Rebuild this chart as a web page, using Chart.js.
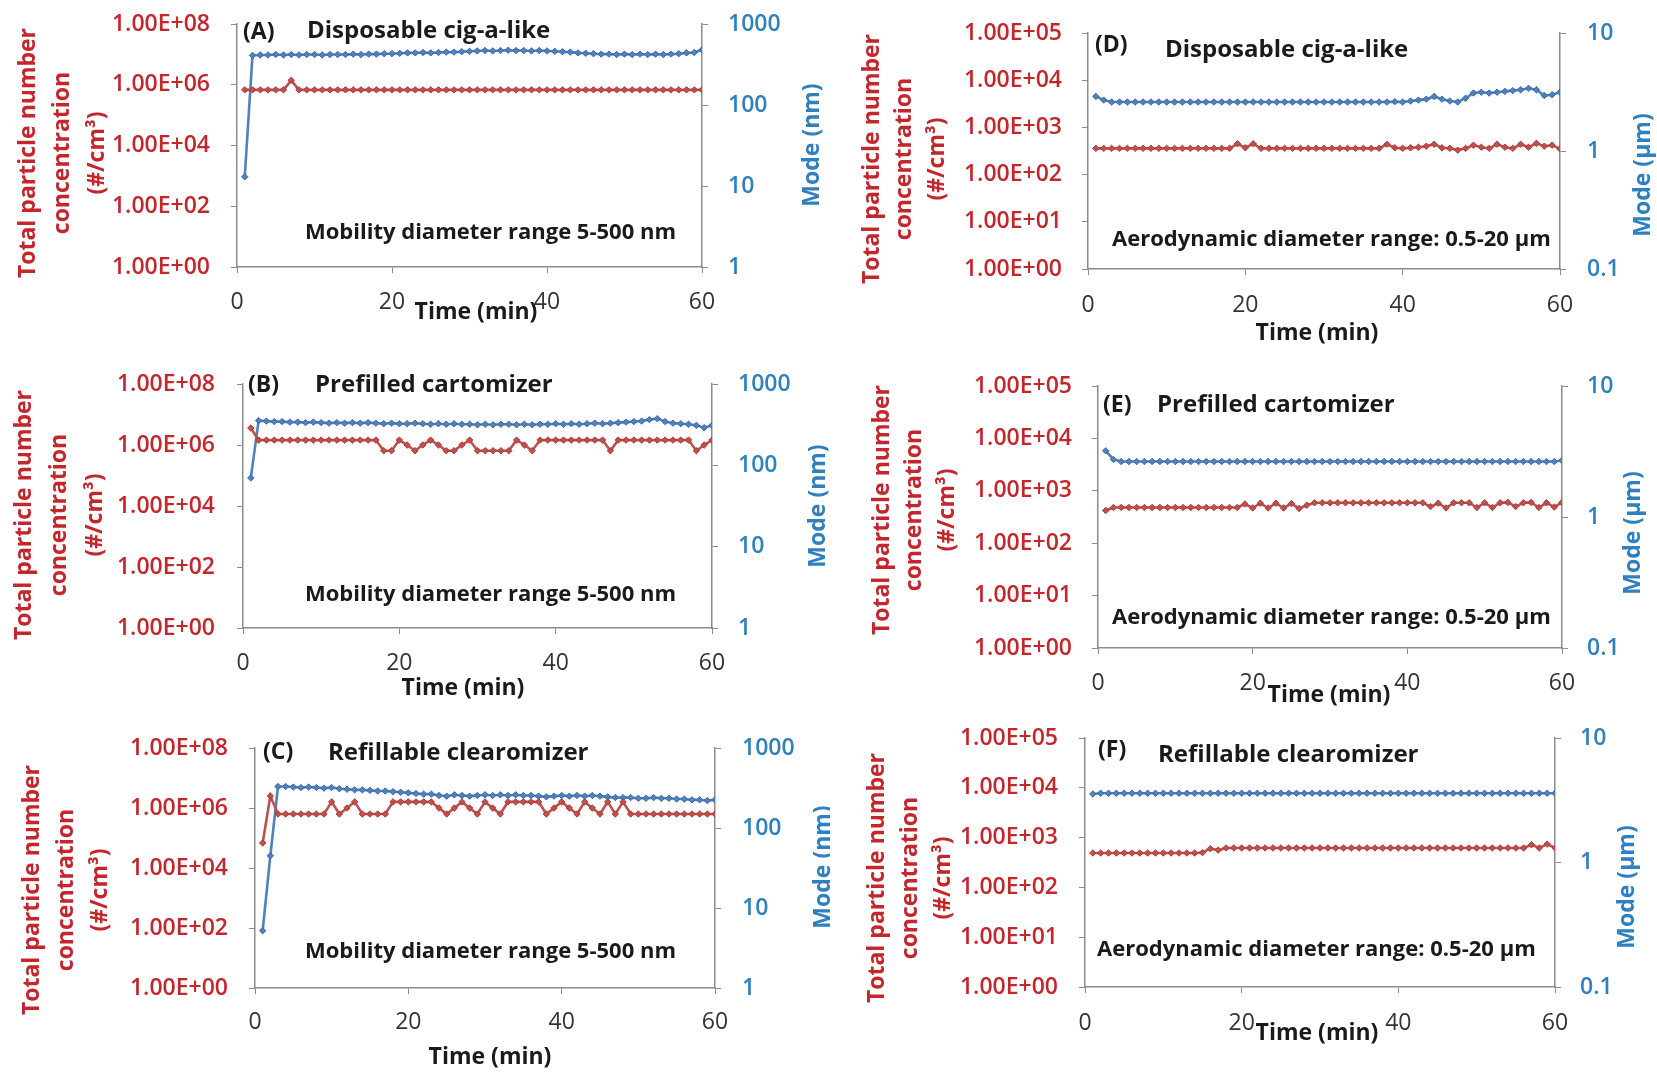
<!DOCTYPE html>
<html>
<head>
<meta charset="utf-8">
<title>Particle number concentration and mode over time</title>
<script src="https://cdn.jsdelivr.net/npm/chart.js@4.4.1/dist/chart.umd.min.js"></script>
<style>
  html, body { margin: 0; padding: 0; background: #fff; }
  #page { position: relative; width: 1657px; height: 1072px; overflow: hidden; background: #fff; }
  #page canvas { position: absolute; }
</style>
</head>
<body>
<div id="page"></div>
<script>
// one reading per minute
const minutes = [1, 2, 3, 4, 5, 6, 7, 8, 9, 10,
  11, 12, 13, 14, 15, 16, 17, 18, 19, 20,
  21, 22, 23, 24, 25, 26, 27, 28, 29, 30,
  31, 32, 33, 34, 35, 36, 37, 38, 39, 40,
  41, 42, 43, 44, 45, 46, 47, 48, 49, 50,
  51, 52, 53, 54, 55, 56, 57, 58, 59, 60];

// (A) disposable cig-a-like, SMPS (#/cm3 and nm)
const concA = [6.8e5, 6.8e5, 6.8e5, 6.8e5, 6.8e5, 6.8e5, 1.4e6, 6.8e5, 6.8e5, 6.8e5,
  6.8e5, 6.8e5, 6.8e5, 6.8e5, 6.8e5, 6.8e5, 6.8e5, 6.8e5, 6.8e5, 6.8e5,
  6.8e5, 6.8e5, 6.8e5, 6.8e5, 6.8e5, 6.8e5, 6.8e5, 6.8e5, 6.8e5, 6.8e5,
  6.8e5, 6.8e5, 6.8e5, 6.8e5, 6.8e5, 6.8e5, 6.8e5, 6.8e5, 6.8e5, 6.8e5,
  6.8e5, 6.8e5, 6.8e5, 6.8e5, 6.8e5, 6.8e5, 6.8e5, 6.8e5, 6.8e5, 6.8e5,
  6.8e5, 6.8e5, 6.8e5, 6.8e5, 6.8e5, 6.8e5, 6.8e5, 6.8e5, 6.8e5, 6.8e5];
const modeA = [13, 410, 415, 415, 420, 415, 420, 415, 420, 420,
  415, 420, 420, 420, 425, 420, 425, 425, 430, 430,
  435, 440, 440, 445, 440, 445, 450, 450, 455, 460,
  465, 470, 465, 470, 475, 470, 470, 465, 470, 465,
  460, 455, 450, 440, 435, 430, 425, 425, 420, 425,
  420, 425, 420, 425, 420, 425, 430, 440, 445, 480];

// (B) prefilled cartomizer, SMPS
const concB = [3.6e6, 1.45e6, 1.45e6, 1.45e6, 1.45e6, 1.45e6, 1.45e6, 1.45e6, 1.45e6, 1.45e6,
  1.45e6, 1.45e6, 1.45e6, 1.45e6, 1.45e6, 1.45e6, 1.45e6, 6.5e5, 6.5e5, 1.45e6,
  1.0e6, 6.5e5, 1.0e6, 1.45e6, 1.0e6, 6.5e5, 6.5e5, 1.0e6, 1.45e6, 6.5e5,
  6.5e5, 6.5e5, 6.5e5, 6.5e5, 1.45e6, 1.0e6, 6.5e5, 1.45e6, 1.45e6, 1.45e6,
  1.45e6, 1.45e6, 1.45e6, 1.45e6, 1.45e6, 1.45e6, 6.5e5, 1.45e6, 1.45e6, 1.45e6,
  1.45e6, 1.45e6, 1.45e6, 1.45e6, 1.45e6, 1.45e6, 1.45e6, 6.5e5, 1.0e6, 1.45e6];
const modeB = [70, 355, 350, 345, 345, 340, 340, 335, 340, 335,
  330, 335, 330, 335, 330, 335, 330, 325, 330, 325,
  325, 330, 325, 320, 325, 320, 325, 320, 320, 315,
  320, 315, 320, 320, 315, 320, 315, 320, 320, 325,
  320, 325, 320, 325, 330, 325, 330, 335, 340, 345,
  350, 365, 375, 345, 330, 325, 320, 310, 290, 310];

// (C) refillable clearomizer, SMPS
const concC = [6.8e4, 2.5e6, 6.3e5, 6.3e5, 6.3e5, 6.3e5, 6.3e5, 6.3e5, 6.3e5, 1.6e6,
  6.3e5, 1.0e6, 1.6e6, 6.3e5, 6.3e5, 6.3e5, 6.3e5, 1.6e6, 1.6e6, 1.6e6,
  1.6e6, 1.6e6, 1.6e6, 1.0e6, 6.3e5, 1.0e6, 1.6e6, 1.0e6, 6.3e5, 1.6e6,
  1.0e6, 6.3e5, 1.6e6, 1.6e6, 1.6e6, 1.6e6, 1.6e6, 6.3e5, 1.0e6, 1.6e6,
  1.0e6, 6.3e5, 1.6e6, 1.0e6, 6.3e5, 1.6e6, 6.3e5, 1.6e6, 6.3e5, 6.3e5,
  6.3e5, 6.3e5, 6.3e5, 6.3e5, 6.3e5, 6.3e5, 6.3e5, 6.3e5, 6.3e5, 6.3e5];
const modeC = [5.2, 45, 330, 330, 325, 320, 325, 320, 315, 320,
  310, 305, 300, 300, 295, 290, 290, 285, 280, 275,
  270, 265, 265, 255, 250, 260, 255, 250, 255, 260,
  255, 260, 255, 260, 255, 255, 250, 245, 250, 255,
  250, 255, 250, 255, 250, 245, 240, 240, 240, 235,
  235, 240, 235, 235, 230, 230, 225, 225, 220, 225];

// (D) disposable cig-a-like, APS (#/cm3 and um)
const concD = [360, 360, 360, 360, 360, 360, 360, 360, 360, 360,
  360, 360, 360, 360, 360, 360, 360, 360, 450, 370,
  450, 360, 360, 360, 360, 360, 360, 360, 360, 360,
  360, 360, 360, 360, 360, 360, 360, 440, 370, 360,
  370, 380, 400, 440, 370, 360, 330, 360, 420, 380,
  360, 440, 380, 360, 440, 380, 460, 400, 420, 350];
const modeD = [2.9, 2.7, 2.6, 2.6, 2.6, 2.6, 2.6, 2.6, 2.6, 2.6,
  2.6, 2.6, 2.6, 2.6, 2.6, 2.6, 2.6, 2.6, 2.6, 2.6,
  2.6, 2.6, 2.6, 2.6, 2.6, 2.6, 2.6, 2.6, 2.6, 2.6,
  2.6, 2.6, 2.6, 2.6, 2.6, 2.6, 2.6, 2.6, 2.62, 2.6,
  2.65, 2.7, 2.75, 2.9, 2.75, 2.65, 2.6, 2.8, 3.1, 3.15,
  3.1, 3.15, 3.2, 3.25, 3.3, 3.4, 3.3, 2.95, 3.0, 3.15];

// (E) prefilled cartomizer, APS
const concE = [420, 480, 480, 480, 480, 480, 480, 480, 480, 480,
  480, 480, 480, 480, 480, 480, 480, 480, 560, 470,
  580, 470, 580, 470, 570, 460, 530, 590, 590, 590,
  590, 590, 590, 590, 590, 590, 590, 590, 590, 590,
  590, 590, 500, 580, 470, 590, 590, 590, 480, 590,
  480, 590, 600, 500, 590, 600, 480, 590, 490, 600];
const modeE = [3.2, 2.75, 2.65, 2.65, 2.65, 2.65, 2.65, 2.65, 2.65, 2.65,
  2.65, 2.65, 2.65, 2.65, 2.65, 2.65, 2.65, 2.65, 2.65, 2.65,
  2.65, 2.65, 2.65, 2.65, 2.65, 2.65, 2.65, 2.65, 2.65, 2.65,
  2.65, 2.65, 2.65, 2.65, 2.65, 2.65, 2.65, 2.65, 2.65, 2.65,
  2.65, 2.65, 2.65, 2.65, 2.65, 2.65, 2.65, 2.65, 2.65, 2.65,
  2.65, 2.65, 2.65, 2.65, 2.65, 2.65, 2.65, 2.65, 2.65, 2.7];

// (F) refillable clearomizer, APS
const concF = [490, 490, 490, 490, 490, 490, 490, 490, 490, 490,
  490, 490, 490, 490, 500, 600, 560, 620, 620, 620,
  620, 620, 620, 620, 620, 620, 620, 620, 620, 620,
  620, 620, 620, 620, 620, 620, 620, 620, 620, 620,
  620, 620, 620, 620, 620, 620, 620, 620, 620, 620,
  620, 620, 620, 620, 620, 620, 720, 620, 740, 620];
const modeF = [3.55, 3.6, 3.6, 3.6, 3.6, 3.6, 3.6, 3.6, 3.6, 3.6,
  3.6, 3.6, 3.6, 3.6, 3.6, 3.6, 3.6, 3.6, 3.6, 3.6,
  3.6, 3.6, 3.6, 3.6, 3.6, 3.6, 3.6, 3.6, 3.6, 3.6,
  3.6, 3.6, 3.6, 3.6, 3.6, 3.6, 3.6, 3.6, 3.6, 3.6,
  3.6, 3.6, 3.6, 3.6, 3.6, 3.6, 3.6, 3.6, 3.6, 3.6,
  3.6, 3.6, 3.6, 3.6, 3.6, 3.6, 3.6, 3.6, 3.6, 3.6];

// tick values
const timeTicks = [0, 20, 40, 60];
const concTicksSmps = [1, 1e2, 1e4, 1e6, 1e8];
const concTicksAps = [1, 1e1, 1e2, 1e3, 1e4, 1e5];
const modeTicksSmps = [1, 10, 100, 1000];
const modeTicksAps = [0.1, 1, 10];

// labels
const panelLetters = ['(A)', '(B)', '(C)', '(D)', '(E)', '(F)'];
const deviceNames = ['Disposable cig-a-like', 'Prefilled cartomizer', 'Refillable clearomizer',
  'Disposable cig-a-like', 'Prefilled cartomizer', 'Refillable clearomizer'];
const smpsRange = 'Mobility diameter range 5-500 nm';
const apsRange = 'Aerodynamic diameter range: 0.5-20 µm';
const concTitle = ['Total particle number', 'concentration', '(#/cm³)'];
const timeTitle = 'Time (min)';

const RED = '#C0504D';
const BLUE = '#4F81BD';
const RED_TEXT = '#C3262B';
const BLUE_TEXT = '#2E80BF';
const AXIS_GRAY = '#8C8C8C';
const FONT = '"Open Sans", Lato, sans-serif';

Chart.defaults.font.family = FONT;

// page positions of every panel (box = canvas, plot = chart area, titles = centres on the page)
const panels = [
  { conc: concA, mode: modeA, aps: false, box: { x: 0, y: 0, w: 830, h: 345 }, plot: { l: 237, r: 702, t: 24, b: 267 },
    leftGap: 27, rightGap: 26, xLabelGap: 35,
    concT: { x: 28, y: 153, gap: 34.5 }, modeT: { x: 812, y: 145 }, timeT: { x: 476, y: 312 },
    letter: [6, 8], name: [70, 7], range: [68, -34] },
  { conc: concB, mode: modeB, aps: false, box: { x: 0, y: 345, w: 830, h: 360 }, plot: { l: 243, r: 712, t: 384, b: 628 },
    leftGap: 28, rightGap: 26, xLabelGap: 35,
    concT: { x: 24, y: 515, gap: 35.5 }, modeT: { x: 818, y: 506 }, timeT: { x: 463, y: 688 },
    letter: [5, 1], name: [72, 1], range: [62, -33] },
  { conc: concC, mode: modeC, aps: false, box: { x: 0, y: 705, w: 830, h: 367 }, plot: { l: 255, r: 715, t: 748, b: 988 },
    leftGap: 27, rightGap: 27, xLabelGap: 34,
    concT: { x: 32, y: 890, gap: 34 }, modeT: { x: 823, y: 867 }, timeT: { x: 490, y: 1057 },
    letter: [8, 4], name: [73, 5], range: [50, -36] },
  { conc: concD, mode: modeD, aps: true, box: { x: 830, y: 0, w: 827, h: 350 }, plot: { l: 1088, r: 1560, t: 33, b: 269 },
    leftGap: 26, rightGap: 27, xLabelGap: 36,
    concT: { x: 872, y: 159, gap: 32.5 }, modeT: { x: 1643, y: 175 }, timeT: { x: 1317, y: 333 },
    letter: [7, 12], name: [77, 17], range: [24, -29] },
  { conc: concE, mode: modeE, aps: true, box: { x: 830, y: 350, w: 827, h: 362 }, plot: { l: 1098, r: 1562, t: 386, b: 648 },
    leftGap: 26, rightGap: 25, xLabelGap: 35,
    concT: { x: 882, y: 510, gap: 32.5 }, modeT: { x: 1633, y: 533 }, timeT: { x: 1329, y: 695 },
    letter: [5, 19], name: [59, 19], range: [14, -30] },
  { conc: concF, mode: modeF, aps: true, box: { x: 830, y: 712, w: 827, h: 360 }, plot: { l: 1085, r: 1555, t: 738, b: 987 },
    leftGap: 27, rightGap: 25, xLabelGap: 36,
    concT: { x: 877, y: 878, gap: 33 }, modeT: { x: 1627, y: 887 }, timeT: { x: 1317, y: 1033 },
    letter: [13, 12], name: [73, 17], range: [12, -37] }
];

const TICK_LEN = 6;
const TICK_SIZE = 23;
const TITLE_FONT = 'bold 23px ' + FONT;

function concLabel(v) {
  const e = Math.round(Math.log10(v));
  return '1.00E' + (e < 0 ? '-' : '+') + String(Math.abs(e)).padStart(2, '0');
}

function toPoints(values) {
  return minutes.map((m, i) => ({ x: m, y: values[i] }));
}

function upText(ctx, text, x, y) {
  ctx.save();
  ctx.translate(x, y);
  ctx.rotate(-Math.PI / 2);
  ctx.fillText(text, 0, 0);
  ctx.restore();
}

// axis titles, panel letter, device name and size range
function notesPlugin(index, p) {
  return {
    id: 'notes' + index,
    afterDraw(chart) {
      const { ctx, chartArea } = chart;
      const ox = p.box.x, oy = p.box.y;
      ctx.save();
      ctx.textBaseline = 'middle';
      ctx.textAlign = 'center';
      ctx.font = TITLE_FONT;

      ctx.fillStyle = RED_TEXT;
      concTitle.forEach((line, k) => upText(ctx, line, p.concT.x - ox + k * p.concT.gap, p.concT.y - oy));
      ctx.fillStyle = BLUE_TEXT;
      upText(ctx, p.aps ? 'Mode (µm)' : 'Mode (nm)', p.modeT.x - ox, p.modeT.y - oy);
      ctx.fillStyle = '#1a1a1a';
      ctx.fillText(timeTitle, p.timeT.x - ox, p.timeT.y - oy);

      ctx.textAlign = 'left';
      ctx.font = 'bold 23px ' + FONT;
      ctx.fillText(panelLetters[index], chartArea.left + p.letter[0], chartArea.top + p.letter[1]);
      ctx.font = 'bold 24px ' + FONT;
      ctx.fillText(deviceNames[index], chartArea.left + p.name[0], chartArea.top + p.name[1]);
      ctx.font = 'bold 22px ' + FONT;
      ctx.fillText(p.aps ? apsRange : smpsRange, chartArea.left + p.range[0], chartArea.bottom + p.range[1]);
      ctx.restore();
    }
  };
}

function makePanel(p, index) {
  const canvas = document.createElement('canvas');
  canvas.width = p.box.w;
  canvas.height = p.box.h;
  canvas.style.left = p.box.x + 'px';
  canvas.style.top = p.box.y + 'px';
  document.getElementById('page').appendChild(canvas);

  const leftW = p.plot.l - p.box.x;
  const rightW = p.box.x + p.box.w - p.plot.r;
  const bottomH = p.box.y + p.box.h - p.plot.b;
  const tickLine = TICK_SIZE * 1.2;

  const concTicks = p.aps ? concTicksAps : concTicksSmps;
  const modeTicks = p.aps ? modeTicksAps : modeTicksSmps;

  const gridOpts = { display: true, drawOnChartArea: false, drawTicks: true, tickLength: TICK_LEN, color: AXIS_GRAY, lineWidth: 1 };
  const borderOpts = { display: true, color: AXIS_GRAY, width: 1.5 };

  // fixed axis sizes so the plot area lands where it is in the figure
  const fitY = w => s => { s.width = w; s.paddingTop = 0; s.paddingBottom = 0; };

  new Chart(canvas.getContext('2d'), {
    type: 'line',
    data: {
      datasets: [
        {
          label: 'Total particle number concentration',
          data: toPoints(p.conc),
          yAxisID: 'yConc',
          borderColor: RED,
          backgroundColor: RED,
          borderWidth: 2.6,
          pointStyle: 'rectRot',
          pointRadius: 3.2,
          pointBorderWidth: 1,
          pointBorderColor: '#A83B38',
          pointBackgroundColor: RED,
          tension: 0
        },
        {
          label: 'Mode',
          data: toPoints(p.mode),
          yAxisID: 'yMode',
          borderColor: BLUE,
          backgroundColor: BLUE,
          borderWidth: 2.6,
          pointStyle: 'rectRot',
          pointRadius: 3.2,
          pointBorderWidth: 1,
          pointBorderColor: '#3A6AA5',
          pointBackgroundColor: BLUE,
          tension: 0
        }
      ]
    },
    options: {
      responsive: false,
      animation: false,
      devicePixelRatio: 1,
      layout: { padding: { top: p.plot.t - p.box.y, left: 0, right: 0, bottom: 0 } },
      plugins: { legend: { display: false }, tooltip: { enabled: false } },
      scales: {
        x: {
          type: 'linear',
          position: 'bottom',
          min: 0,
          max: 60,
          afterBuildTicks: s => { s.ticks = timeTicks.map(v => ({ value: v })); },
          afterFit: s => { s.height = bottomH; s.paddingLeft = 0; s.paddingRight = 0; },
          ticks: {
            color: '#333',
            font: { size: TICK_SIZE },
            padding: p.xLabelGap - TICK_LEN - tickLine / 2,
            maxRotation: 0,
            autoSkip: false
          },
          grid: gridOpts,
          border: borderOpts
        },
        yConc: {
          type: 'logarithmic',
          position: 'left',
          min: concTicks[0],
          max: concTicks[concTicks.length - 1],
          afterBuildTicks: s => { s.ticks = concTicks.map(v => ({ value: v })); },
          afterFit: fitY(leftW),
          ticks: {
            color: RED_TEXT,
            font: { size: TICK_SIZE, weight: '600' },
            padding: p.leftGap - TICK_LEN,
            callback: v => concLabel(v),
            autoSkip: false
          },
          grid: gridOpts,
          border: borderOpts
        },
        yMode: {
          type: 'logarithmic',
          position: 'right',
          min: modeTicks[0],
          max: modeTicks[modeTicks.length - 1],
          afterBuildTicks: s => { s.ticks = modeTicks.map(v => ({ value: v })); },
          afterFit: fitY(rightW),
          ticks: {
            color: BLUE_TEXT,
            font: { size: TICK_SIZE, weight: '600' },
            padding: p.rightGap - TICK_LEN,
            callback: v => String(v),
            autoSkip: false
          },
          grid: gridOpts,
          border: borderOpts
        }
      }
    },
    plugins: [notesPlugin(index, p)]
  });
}

panels.forEach((p, i) => makePanel(p, i));
</script>
</body>
</html>
